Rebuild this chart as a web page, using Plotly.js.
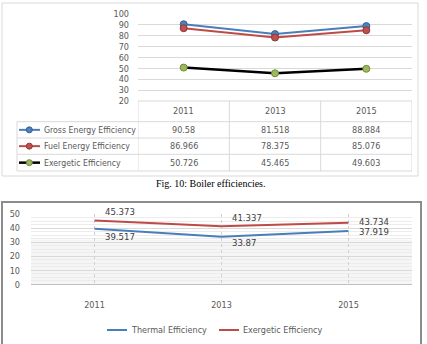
<!DOCTYPE html>
<html>
<head>
<meta charset="utf-8">
<script src="https://cdn.plot.ly/plotly-3.0.1.min.js"></script>
<style>
  html, body { margin: 0; padding: 0; background: #fff; }
  #chart { width: 427px; height: 344px; }
</style>
</head>
<body>
<div id="chart"></div>
<script>
// ---- data ----
const years = ['2011', '2013', '2015'];

const grossEnergy = [90.58, 81.518, 88.884];
const fuelEnergy = [86.966, 78.375, 85.076];
const boilerExergetic = [50.726, 45.465, 49.603];

const thermalEff = [39.517, 33.87, 37.919];
const cycleExergetic = [45.373, 41.337, 43.734];

const topSeriesNames = ['Gross Energy Efficiency', 'Fuel Energy Efficiency', 'Exergetic Efficiency'];
const bottomSeriesNames = ['Thermal Efficiency', 'Exergetic Efficiency'];
const captionText = 'Fig. 10: Boiler efficiencies.';

// ---- page geometry (pixels) ----
const W = 427, H = 344;
const px = x => x / W;
const py = y => 1 - y / H;

const FONT = '"DejaVu Sans Condensed", "DejaVu Sans", sans-serif';
const GREY_TXT = '#595959';
const LABEL_TXT = '#404040';

const topStyles = [
  { line: '#4A7EBB', fill: '#4F81BD', edge: '#385D8A', w: 2 },
  { line: '#BE4B48', fill: '#C0504D', edge: '#8C3836', w: 2 },
  { line: '#000000', fill: '#9BBB59', edge: '#71893F', w: 2.5 }
];
const topValues = [grossEnergy, fuelEnergy, boilerExergetic];

const bottomStyles = [
  { line: '#4A7EBB', w: 2 },
  { line: '#BE4B48', w: 2 }
];
const bottomValues = [thermalEff, cycleExergetic];
// label offsets (pixels) relative to each point: [xshift, yshift]
const bottomLabelShift = [
  [[8, -8], [8, -6], [8, 0]],
  [[8, 9], [8, 9], [8, 1]]
];

const traces = [];

// upper chart: three efficiency lines with markers
topValues.forEach((vals, i) => {
  traces.push({
    type: 'scatter', mode: 'lines+markers',
    x: years, y: vals, xaxis: 'x', yaxis: 'y',
    name: topSeriesNames[i], showlegend: false,
    line: { color: topStyles[i].line, width: topStyles[i].w },
    marker: { size: 7, color: topStyles[i].fill, line: { color: topStyles[i].edge, width: 1 } },
    hoverinfo: 'skip'
  });
});

// lower chart: thermal and exergetic efficiency
bottomValues.forEach((vals, i) => {
  traces.push({
    type: 'scatter', mode: 'lines',
    x: years, y: vals, xaxis: 'x2', yaxis: 'y2',
    name: bottomSeriesNames[i], showlegend: false,
    line: { color: bottomStyles[i].line, width: bottomStyles[i].w },
    hoverinfo: 'skip'
  });
});

const border = '#D9D9D9';
const shapes = [];
const annotations = [];

// value labels on the lower chart
bottomValues.forEach((vals, s) => {
  vals.forEach((v, i) => {
    annotations.push({ xref: 'x2', yref: 'y2', x: i, y: v, text: String(v), showarrow: false,
      xanchor: 'left', yanchor: 'middle',
      xshift: bottomLabelShift[s][i][0], yshift: bottomLabelShift[s][i][1],
      font: { family: FONT, size: 9.5, color: LABEL_TXT } });
  });
});

// lower chart key
const keyItems = [{ x0: 107, x1: 127, tx: 129 }, { x0: 219, x1: 239, tx: 241 }];
keyItems.forEach((k, i) => {
  shapes.push({ type: 'line', xref: 'paper', yref: 'paper', x0: px(k.x0), x1: px(k.x1), y0: py(330), y1: py(330),
    line: { color: bottomStyles[i].line, width: 2 } });
  annotations.push({ xref: 'paper', yref: 'paper', x: px(k.tx), y: py(330), xanchor: 'left', yanchor: 'middle',
    text: bottomSeriesNames[i], showarrow: false, font: { family: FONT, size: 9, color: GREY_TXT } });
});

// ---- data table under the upper chart ----
const tbl = { left: 17, plotL: 138, plotR: 412, top: 101, rows: [121.7, 138, 154.3, 171] };

// outer frames
shapes.push({ type: 'rect', xref: 'paper', yref: 'paper', x0: px(2), x1: px(418), y0: py(3), y1: py(176),
  line: { color: '#D9D9D9', width: 1 }, layer: 'below' });
shapes.push({ type: 'rect', xref: 'paper', yref: 'paper', x0: px(2), x1: px(421), y0: py(202), y1: py(346),
  line: { color: '#8C8C8C', width: 2 }, layer: 'below' });

// table grid
const hline = (x0, x1, y) => shapes.push({ type: 'line', xref: 'paper', yref: 'paper',
  x0: px(x0), x1: px(x1), y0: py(y), y1: py(y), line: { color: border, width: 1 } });
const vline = (x, y0, y1) => shapes.push({ type: 'line', xref: 'paper', yref: 'paper',
  x0: px(x), x1: px(x), y0: py(y0), y1: py(y1), line: { color: border, width: 1 } });

hline(tbl.plotL, tbl.plotR, tbl.top);
tbl.rows.forEach(y => hline(tbl.left, tbl.plotR, y));
vline(tbl.left, tbl.rows[0], tbl.rows[3]);
for (let i = 0; i <= years.length; i++) {
  shapes.push({ type: 'line', xref: 'x', yref: 'paper', x0: i - 0.5, x1: i - 0.5,
    y0: py(tbl.top), y1: py(tbl.rows[3]), line: { color: border, width: 1 } });
}

// header years
years.forEach((yr, i) => {
  annotations.push({ xref: 'x', yref: 'paper', x: i, y: py((tbl.top + tbl.rows[0]) / 2), yanchor: 'middle',
    text: yr, showarrow: false, font: { family: FONT, size: 9, color: GREY_TXT } });
});

// body rows: key + values
topValues.forEach((vals, r) => {
  const yc = (tbl.rows[r] + tbl.rows[r + 1]) / 2;
  shapes.push({ type: 'line', xref: 'paper', yref: 'paper', x0: px(19), x1: px(40), y0: py(yc), y1: py(yc),
    line: { color: topStyles[r].line, width: topStyles[r].w } });
  shapes.push({ type: 'circle', xref: 'paper', yref: 'paper', x0: px(26.3), x1: px(32.3), y0: py(yc - 3), y1: py(yc + 3),
    fillcolor: topStyles[r].fill, line: { color: topStyles[r].edge, width: 1 } });
  annotations.push({ xref: 'paper', yref: 'paper', x: px(41.5), y: py(yc), xanchor: 'left', yanchor: 'middle',
    text: topSeriesNames[r], showarrow: false, font: { family: FONT, size: 8.7, color: GREY_TXT } });
  vals.forEach((v, i) => {
    annotations.push({ xref: 'x', yref: 'paper', x: i, y: py(yc), yanchor: 'middle',
      text: String(v), showarrow: false, font: { family: FONT, size: 9, color: GREY_TXT } });
  });
});

// caption
annotations.push({ xref: 'paper', yref: 'paper', x: px(211), y: py(183.5), yanchor: 'middle', text: captionText,
  showarrow: false, font: { family: '"Liberation Serif", serif', size: 10, color: '#000' } });

// faint shading in the lower part of the second plot
shapes.push({ type: 'rect', xref: 'x2', yref: 'y2', x0: -0.5, x1: 2.5, y0: 0, y1: 32,
  fillcolor: '#F5F5F5', line: { width: 0 }, layer: 'below' });

const layout = {
  width: W, height: H,
  margin: { l: 0, r: 0, t: 0, b: 0 },
  paper_bgcolor: '#fff', plot_bgcolor: 'rgba(0,0,0,0)',
  font: { family: FONT, size: 9, color: GREY_TXT },
  showlegend: false,
  xaxis: {
    domain: [px(138), px(412)], anchor: 'y', type: 'category', range: [-0.5, 2.5],
    showticklabels: false, showgrid: false, zeroline: false, showline: false, fixedrange: true
  },
  yaxis: {
    domain: [py(101), py(14)], anchor: 'x', range: [20, 100], dtick: 10,
    gridcolor: '#D9D9D9', gridwidth: 1, zeroline: false, showline: false,
    tickfont: { family: FONT, size: 9, color: GREY_TXT }, ticklabelstandoff: 8
  },
  xaxis2: {
    domain: [px(31), px(412)], anchor: 'y2', type: 'category', range: [-0.5, 2.5],
    showgrid: true, gridcolor: '#CFCFCF', griddash: 'dot', zeroline: false, showline: false,
    tickfont: { family: FONT, size: 9, color: GREY_TXT }, ticklabelstandoff: 13
  },
  yaxis2: {
    domain: [py(284.5), py(214)], anchor: 'x2', range: [0, 50], dtick: 10,
    gridcolor: '#D9D9D9', gridwidth: 1, zeroline: true, zerolinecolor: '#BFBFBF', zerolinewidth: 1,
    showline: false,
    minor: { dtick: 2.5, showgrid: true, gridcolor: '#ECECEC', ticks: '' },
    tickfont: { family: FONT, size: 9, color: GREY_TXT }, ticklabelstandoff: 10
  },
  shapes: shapes,
  annotations: annotations
};

Plotly.newPlot('chart', traces, layout, { displayModeBar: false, staticPlot: true });
</script>
</body>
</html>
